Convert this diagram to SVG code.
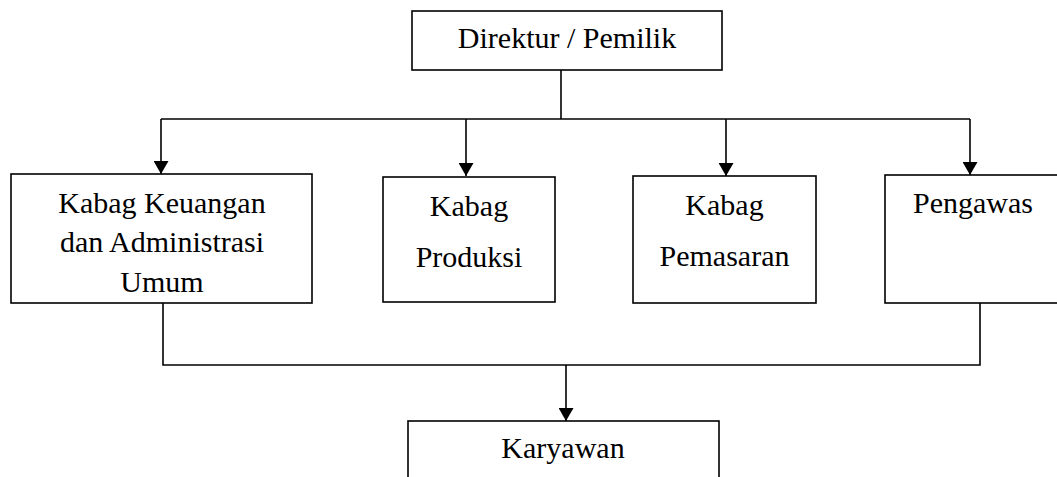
<svg xmlns="http://www.w3.org/2000/svg" width="1057" height="477" viewBox="0 0 1057 477">
<style>
.box{fill:#fff;stroke:#000;stroke-width:1.6}
.ln{fill:none;stroke:#000;stroke-width:1.6}
text{font-family:"Liberation Serif","Times New Roman",serif;font-size:30px;fill:#000;text-anchor:middle}
</style>
<defs>
<marker id="ah" markerWidth="13" markerHeight="15" refX="13" refY="7.5" orient="auto" markerUnits="userSpaceOnUse" viewBox="0 0 13 15">
<path d="M0,0 L13,7.5 L0,15 Z" fill="#000"/>
</marker>
</defs>
<g id="connectors">
<path class="ln" d="M561,70 V119"/>
<path class="ln" d="M161,119 H970"/>
<path class="ln" d="M161,119 V174" marker-end="url(#ah)"/>
<path class="ln" d="M466,119 V176" marker-end="url(#ah)"/>
<path class="ln" d="M726,119 V176" marker-end="url(#ah)"/>
<path class="ln" d="M970,119 V175" marker-end="url(#ah)"/>
<path class="ln" d="M163,303 V365 H980 V303"/>
<path class="ln" d="M566,365 V421" marker-end="url(#ah)"/>
</g>
<g id="direktur">
<rect class="box" x="412" y="11" width="310" height="59"/>
<text x="567" y="48">Direktur / Pemilik</text>
</g>
<g id="keuangan">
<rect class="box" x="11" y="174" width="301" height="129"/>
<text x="162" y="213">Kabag Keuangan</text>
<text x="162" y="252">dan Administrasi</text>
<text x="162" y="292">Umum</text>
</g>
<g id="produksi">
<rect class="box" x="383" y="177" width="172" height="125"/>
<text x="469" y="216">Kabag</text>
<text x="469" y="267">Produksi</text>
</g>
<g id="pemasaran">
<rect class="box" x="633" y="176" width="183" height="127"/>
<text x="724.5" y="215">Kabag</text>
<text x="724.5" y="266">Pemasaran</text>
</g>
<g id="pengawas">
<rect class="box" x="885" y="175" width="185" height="128"/>
<text x="973" y="213">Pengawas</text>
</g>
<g id="karyawan">
<rect class="box" x="408" y="421" width="311" height="70"/>
<text x="563" y="458">Karyawan</text>
</g>
</svg>
